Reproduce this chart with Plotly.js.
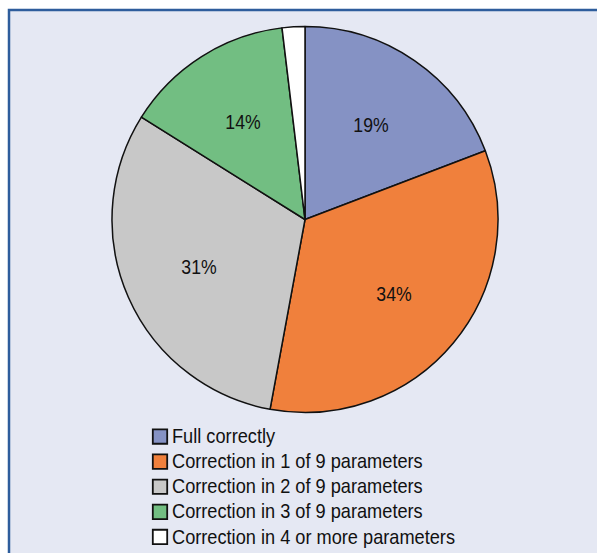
<!DOCTYPE html>
<html>
<head>
<meta charset="utf-8">
<script src="https://cdn.plot.ly/plotly-3.0.1.min.js"></script>
<style>html,body{margin:0;padding:0;background:#fff;}#chart{width:597px;height:553px;}</style>
</head>
<body>
<div id="chart"></div>
<script>
const categories = [
  "Full correctly",
  "Correction in 1 of 9 parameters",
  "Correction in 2 of 9 parameters",
  "Correction in 3 of 9 parameters",
  "Correction in 4 or more parameters"
];
const shares = [19.2, 33.7, 31.0, 14.2, 1.9];
const sliceLabels = ["19%", "34%", "31%", "14%", ""];
const colors = ["#8592c4", "#f0803c", "#c8c8c8", "#72be82", "#ffffff"];

const W = 597, H = 553;
const cx = 305, cy = 219.5, R = 193;
const FONT = "Liberation Sans, Arial, sans-serif";

// label annotations placed at each slice's mid-angle, computed from the data
const total = shares.reduce(function (a, b) { return a + b; }, 0);
const annotations = [];
let cum = 0;
shares.forEach(function (v, i) {
  const mid = (cum + v / 2) / total * 2 * Math.PI;
  cum += v;
  if (!sliceLabels[i]) return;
  const rr = 0.6 * R;
  annotations.push({
    xref: "paper", yref: "paper",
    x: (cx + rr * Math.sin(mid)) / W,
    y: (H - (cy - rr * Math.cos(mid))) / H,
    text: sliceLabels[i], showarrow: false,
    xanchor: "center", yanchor: "middle",
    font: {family: FONT, size: 21, color: "#111111"}
  });
});

const data = [{
  type: "pie",
  labels: categories,
  values: shares,
  textinfo: "none",
  sort: false,
  direction: "clockwise",
  rotation: 0,
  marker: {colors: colors, line: {color: "#111111", width: 1.5}},
  domain: {x: [(cx - R) / W, (cx + R) / W], y: [(H - cy - R) / H, (H - cy + R) / H]},
  hoverinfo: "label+percent"
}];

const layout = {
  width: W, height: H,
  margin: {l: 0, r: 0, t: 0, b: 0, autoexpand: false},
  paper_bgcolor: "#ffffff",
  showlegend: true,
  legend: {
    x: 132 / W, xanchor: "left",
    y: (H - 419) / H, yanchor: "top",
    orientation: "v",
    bgcolor: "rgba(0,0,0,0)",
    font: {family: FONT, size: 17, color: "#111111"},
    traceorder: "normal"
  },
  annotations: annotations,
  shapes: [{
    type: "rect", xref: "paper", yref: "paper", layer: "below",
    x0: 9 / W, x1: 1.05, y0: -0.05, y1: (H - 10) / H,
    fillcolor: "#e5e8f3",
    line: {color: "#2e5d9c", width: 2.5}
  }]
};

Plotly.newPlot("chart", data, layout, {displayModeBar: false, staticPlot: true}).then(function (gd) {
  // condensed look of the original typeface
  const texts = gd.querySelectorAll(".legendtext");
  texts.forEach(function (t) { t.style.fontSize = "21px"; });
  let maxLen = 0;
  texts.forEach(function (t) { maxLen = Math.max(maxLen, t.getComputedTextLength()); });
  const k = 283 / maxLen;
  texts.forEach(function (t) {
    const len = t.getComputedTextLength();
    t.setAttribute("textLength", (len * k).toFixed(1));
    t.setAttribute("lengthAdjust", "spacingAndGlyphs");
  });
  gd.querySelectorAll(".legend [clip-path]").forEach(function (e) { e.removeAttribute("clip-path"); });
  gd.querySelectorAll("path.legendpie").forEach(function (p) {
    p.setAttribute("transform", "translate(28,0) scale(1.2)");
  });
  gd.querySelectorAll(".annotation-text").forEach(function (t) {
    const len = t.getComputedTextLength();
    if (len > 0) {
      t.setAttribute("textLength", (len * 0.84).toFixed(1));
      t.setAttribute("lengthAdjust", "spacingAndGlyphs");
    }
  });
});
</script>
</body>
</html>
